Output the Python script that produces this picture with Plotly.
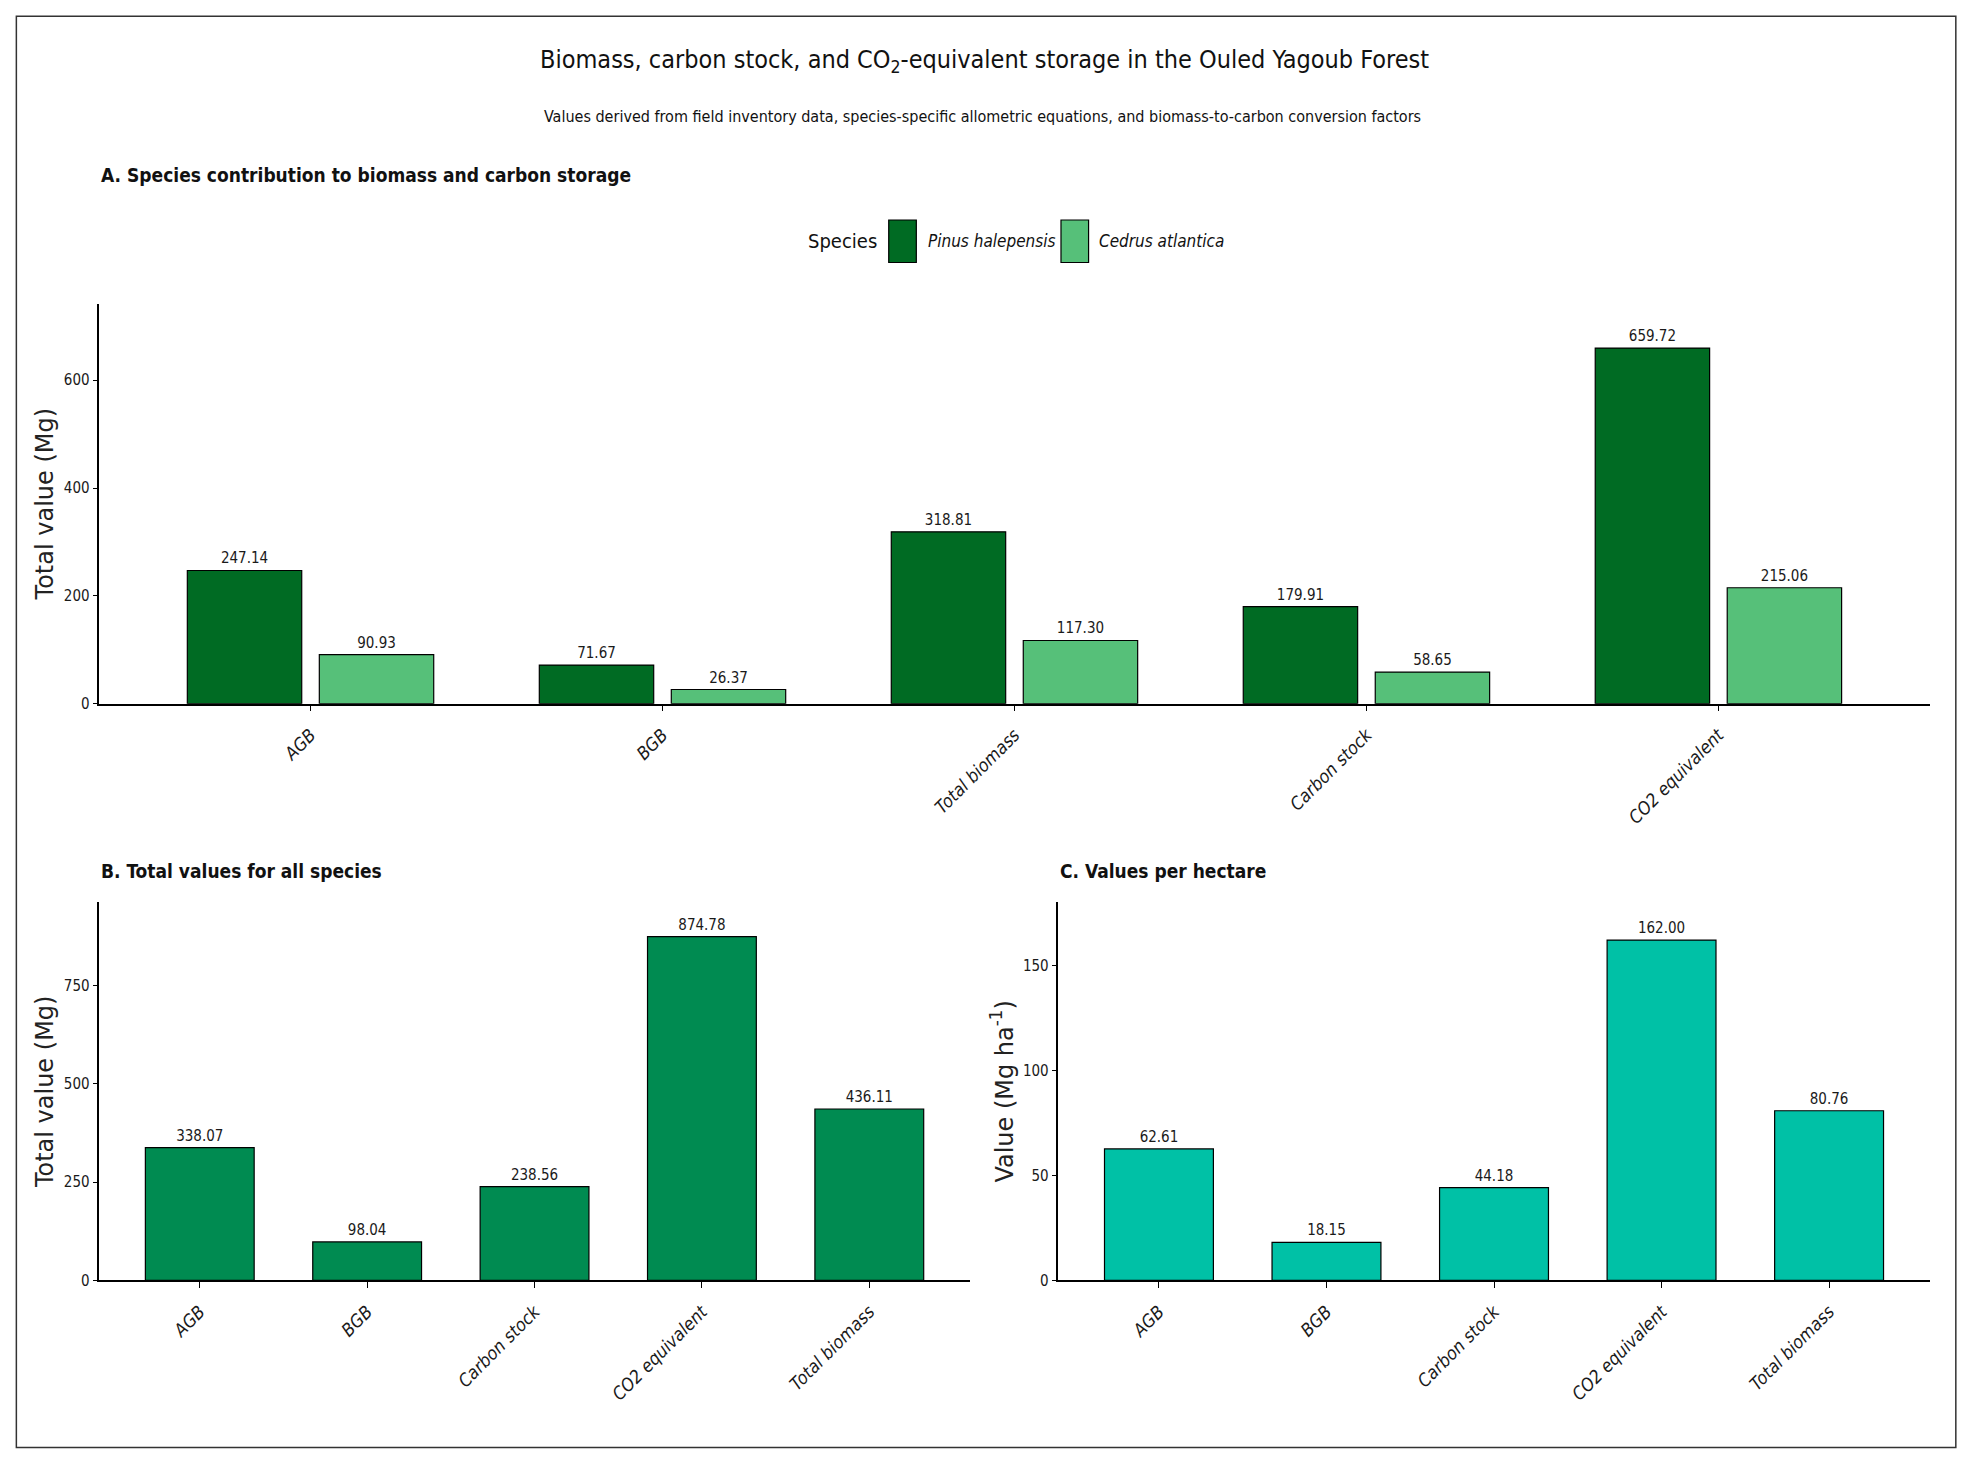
import plotly.graph_objects as go

# Panel A - contribution of each species
components_a = ["AGB", "BGB", "Total biomass", "Carbon stock", "CO2 equivalent"]
pinus = [247.14, 71.67, 318.81, 179.91, 659.72]
cedrus = [90.93, 26.37, 117.30, 58.65, 215.06]
species = ["Pinus halepensis", "Cedrus atlantica"]
species_colors = ["#006B23", "#56C079"]

# Panels B and C - all species together, and per hectare
components_bc = ["AGB", "BGB", "Carbon stock", "CO2 equivalent", "Total biomass"]
total_all = [338.07, 98.04, 238.56, 874.78, 436.11]
per_ha = [62.61, 18.15, 44.18, 162.00, 80.76]

NARROW = "DejaVu Sans Condensed, Liberation Sans Narrow, Arial Narrow, sans-serif"
REG = "DejaVu Sans, sans-serif"
outline = dict(color="black", width=1.2)
label_font = dict(family=NARROW, size=15, color="#1a1a1a")

fig = go.Figure()

# grouped bars for panel A (dodged by hand so the bar width matches)
for name, vals, col, off in zip(species, [pinus, cedrus], species_colors, [-0.35, 0.025]):
    fig.add_bar(x=components_a, y=vals, name=name, width=0.325, offset=off,
                marker=dict(color=col, line=outline),
                text=[f"{v:.2f}" for v in vals], textposition="outside",
                textfont=label_font, constraintext="none", cliponaxis=False,
                xaxis="x", yaxis="y", showlegend=False)

fig.add_bar(x=components_bc, y=total_all, width=0.65,
            marker=dict(color="#008B51", line=outline),
            text=[f"{v:.2f}" for v in total_all], textposition="outside",
            textfont=label_font, constraintext="none", cliponaxis=False,
            xaxis="x2", yaxis="y2", showlegend=False)

fig.add_bar(x=components_bc, y=per_ha, width=0.65,
            marker=dict(color="#00C1A6", line=outline),
            text=[f"{v:.2f}" for v in per_ha], textposition="outside",
            textfont=label_font, constraintext="none", cliponaxis=False,
            xaxis="x3", yaxis="y3", showlegend=False)


def xax(domain, anchor):
    return dict(domain=domain, anchor=anchor, range=[-0.6, 4.6], showline=True,
                linecolor="black", linewidth=1.5, ticks="outside", ticklen=6,
                tickcolor="black", tickangle=-45, showgrid=False, zeroline=False,
                ticklabelstandoff=6,
                tickfont=dict(family=NARROW, size=18, style="italic", color="#1a1a1a"))


def yax(domain, anchor, top, tickvals, title):
    return dict(domain=domain, anchor=anchor, range=[0, top], tickvals=tickvals,
                showline=True, linecolor="black", linewidth=1.5, ticks="outside",
                ticklen=5, tickcolor="black", showgrid=False, zeroline=False,
                tickfont=dict(family=NARROW, size=15, color="#1a1a1a"),
                title=dict(text=title, font=dict(family=REG, size=24, color="#222"), standoff=3))


fig.update_layout(
    width=1971, height=1469,
    margin=dict(l=0, r=0, t=0, b=0),
    paper_bgcolor="white", plot_bgcolor="white",
    barmode="overlay",
    xaxis=xax([0.0504, 0.979], "y"),
    yaxis=yax([0.518, 0.792], "x", 742, [0, 200, 400, 600], "Total value (Mg)"),
    xaxis2=xax([0.0504, 0.492], "y2"),
    yaxis2=yax([0.123, 0.382], "x2", 962, [0, 250, 500, 750], "Total value (Mg)"),
    xaxis3=xax([0.537, 0.979], "y3"),
    yaxis3=yax([0.123, 0.382], "x3", 180, [0, 50, 100, 150], "Value (Mg ha<sup>-1</sup>)"),
)

ann = [
    dict(text="Biomass, carbon stock, and CO<sub>2</sub>-equivalent storage in the Ouled Yagoub Forest",
         x=0.4997, y=0.958, xanchor="center", yanchor="middle",
         font=dict(family=NARROW, size=25, color="#111")),
    dict(text="Values derived from field inventory data, species-specific allometric equations, "
              "and biomass-to-carbon conversion factors",
         x=0.4987, y=0.920, xanchor="center", yanchor="middle",
         font=dict(family=NARROW, size=16, color="#111")),
    dict(text="<b>A. Species contribution to biomass and carbon storage</b>",
         x=0.0504, y=0.880, xanchor="left", yanchor="middle",
         font=dict(family=NARROW, size=19, color="#111")),
    dict(text="<b>B. Total values for all species</b>",
         x=0.0504, y=0.4033, xanchor="left", yanchor="middle",
         font=dict(family=NARROW, size=19, color="#111")),
    dict(text="<b>C. Values per hectare</b>",
         x=0.537, y=0.4033, xanchor="left", yanchor="middle",
         font=dict(family=NARROW, size=19, color="#111")),
    dict(text="Species", x=0.4458, y=0.8348, xanchor="right", yanchor="middle",
         font=dict(family=NARROW, size=20, color="#111")),
]

# hand-drawn legend keys, tall boxes like the original
shapes = []
key_x = [0.4509, 0.5383]
label_x = [0.470, 0.5568]
for name, col, kx, lx in zip(species, species_colors, key_x, label_x):
    shapes.append(dict(type="rect", xref="paper", yref="paper", x0=kx, x1=kx + 0.014,
                       y0=0.8202, y1=0.8493, fillcolor=col, line=dict(color="black", width=1.2)))
    ann.append(dict(text=name, x=lx, y=0.8348, xanchor="left", yanchor="middle",
                    font=dict(family=NARROW, size=17, style="italic", color="#111")))

# outer frame
shapes.append(dict(type="rect", xref="paper", yref="paper", x0=0.0083, x1=0.9923,
                   y0=0.0086, y1=0.9889, line=dict(color="#333", width=1.5)))

for a in ann:
    a.update(xref="paper", yref="paper", showarrow=False)

fig.update_layout(annotations=ann, shapes=shapes)

# drop the default page margin so the figure sits at the window's corner
fig.write_html("out.html", config={"displayModeBar": False},
               post_script="document.body.style.margin='0';")
